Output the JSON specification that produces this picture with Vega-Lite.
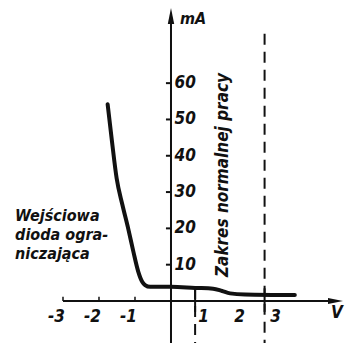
{
  "$schema": "https://vega.github.io/schema/vega-lite/v6.json",
  "width": 353,
  "height": 343,
  "autosize": {"type": "none"},
  "padding": 0,
  "background": "white",
  "config": {"view": {"stroke": null}},
  "datasets": {
    "curve": [
      {"v": -1.76, "ma": 54.2},
      {"v": -1.64, "ma": 44.0},
      {"v": -1.51, "ma": 33.8},
      {"v": -1.35, "ma": 26.5},
      {"v": -1.19, "ma": 20.0},
      {"v": -1.05, "ma": 13.8},
      {"v": -0.91, "ma": 8.1},
      {"v": -0.80, "ma": 5.3},
      {"v": -0.72, "ma": 4.4},
      {"v": -0.58, "ma": 3.9},
      {"v": 0.0, "ma": 3.9},
      {"v": 0.67, "ma": 3.6},
      {"v": 1.17, "ma": 3.4},
      {"v": 1.42, "ma": 2.75},
      {"v": 1.64, "ma": 2.1},
      {"v": 2.06, "ma": 1.8},
      {"v": 3.44, "ma": 1.65}
    ],
    "yticks": [
      {"value": 10, "label": "10"},
      {"value": 20, "label": "20"},
      {"value": 30, "label": "30"},
      {"value": 40, "label": "40"},
      {"value": 50, "label": "50"},
      {"value": 60, "label": "60"}
    ],
    "xticks": [
      {"value": -3, "label": "-3"},
      {"value": -2, "label": "-2"},
      {"value": -1, "label": "-1"},
      {"value": 1, "label": "1"},
      {"value": 2, "label": "2"},
      {"value": 3, "label": "3"}
    ],
    "bounds": [
      {"v": 0.67, "top": 3.6},
      {"v": 2.6, "top": 73.6}
    ],
    "one": [{"id": 1}]
  },
  "layer": [
    {
      "data": {"name": "one"},
      "mark": {"type": "rule", "color": "#111", "strokeWidth": 2},
      "encoding": {
        "x": {"datum": -3, "type": "quantitative", "scale": {"domain": [-4.75, 5.056], "nice": false, "zero": false}, "axis": null},
        "x2": {"datum": 4.6},
        "y": {"datum": 0, "type": "quantitative", "scale": {"domain": [-11.57, 82.9], "nice": false, "zero": false}, "axis": null}
      }
    },
    {
      "data": {"name": "one"},
      "mark": {"type": "rule", "color": "#111", "strokeWidth": 2},
      "encoding": {
        "x": {"datum": 0, "type": "quantitative", "scale": {"domain": [-4.75, 5.056], "nice": false, "zero": false}, "axis": null},
        "y": {"datum": -11.57, "type": "quantitative", "scale": {"domain": [-11.57, 82.9], "nice": false, "zero": false}, "axis": null},
        "y2": {"datum": 77}
      }
    },
    {
      "data": {"name": "one"},
      "mark": {"type": "point", "shape": "M1,0L-1,-0.4L-1,0.4Z", "filled": true, "color": "#111", "size": 225, "opacity": 1},
      "encoding": {
        "x": {"datum": 4.57, "type": "quantitative", "scale": {"domain": [-4.75, 5.056], "nice": false, "zero": false}, "axis": null},
        "y": {"datum": 0, "type": "quantitative", "scale": {"domain": [-11.57, 82.9], "nice": false, "zero": false}, "axis": null}
      }
    },
    {
      "data": {"name": "one"},
      "mark": {"type": "point", "shape": "M0,-1L0.4,1L-0.4,1Z", "filled": true, "color": "#111", "size": 256, "opacity": 1},
      "encoding": {
        "x": {"datum": 0, "type": "quantitative", "scale": {"domain": [-4.75, 5.056], "nice": false, "zero": false}, "axis": null},
        "y": {"datum": 78.5, "type": "quantitative", "scale": {"domain": [-11.57, 82.9], "nice": false, "zero": false}, "axis": null}
      }
    },
    {
      "data": {"name": "yticks"},
      "mark": {"type": "rule", "color": "#111", "strokeWidth": 2},
      "encoding": {
        "x": {"datum": -0.14, "type": "quantitative", "scale": {"domain": [-4.75, 5.056], "nice": false, "zero": false}, "axis": null},
        "x2": {"datum": 0},
        "y": {"field": "value", "type": "quantitative", "scale": {"domain": [-11.57, 82.9], "nice": false, "zero": false}, "axis": null}
      }
    },
    {
      "data": {"name": "xticks"},
      "transform": [{"filter": "datum.value < 0"}],
      "mark": {"type": "rule", "color": "#111", "strokeWidth": 1.5},
      "encoding": {
        "x": {"field": "value", "type": "quantitative", "scale": {"domain": [-4.75, 5.056], "nice": false, "zero": false}, "axis": null},
        "y": {"datum": 0, "type": "quantitative", "scale": {"domain": [-11.57, 82.9], "nice": false, "zero": false}, "axis": null},
        "y2": {"datum": 1.2}
      }
    },
    {
      "data": {"name": "yticks"},
      "mark": {"type": "text", "align": "left", "baseline": "middle", "font": "DejaVu Sans Condensed, Liberation Sans Narrow, DejaVu Sans", "fontSize": 17, "fontWeight": "bold", "fontStyle": "italic", "color": "#111"},
      "encoding": {
        "x": {"datum": 0.1, "type": "quantitative", "scale": {"domain": [-4.75, 5.056], "nice": false, "zero": false}, "axis": null},
        "y": {"field": "value", "type": "quantitative", "scale": {"domain": [-11.57, 82.9], "nice": false, "zero": false}, "axis": null},
        "text": {"field": "label"}
      }
    },
    {
      "data": {"name": "xticks"},
      "mark": {"type": "text", "align": "right", "baseline": "middle", "dx": 2, "font": "DejaVu Sans Condensed, Liberation Sans Narrow, DejaVu Sans", "fontSize": 17, "fontWeight": "bold", "fontStyle": "italic", "color": "#111"},
      "encoding": {
        "x": {"field": "value", "type": "quantitative", "scale": {"domain": [-4.75, 5.056], "nice": false, "zero": false}, "axis": null},
        "y": {"datum": -4.3, "type": "quantitative", "scale": {"domain": [-11.57, 82.9], "nice": false, "zero": false}, "axis": null},
        "text": {"field": "label"}
      }
    },
    {
      "data": {"name": "bounds"},
      "mark": {"type": "rule", "color": "#111", "strokeWidth": 2, "strokeDash": [11, 7]},
      "encoding": {
        "x": {"field": "v", "type": "quantitative", "scale": {"domain": [-4.75, 5.056], "nice": false, "zero": false}, "axis": null},
        "y": {"field": "top", "type": "quantitative", "scale": {"domain": [-11.57, 82.9], "nice": false, "zero": false}, "axis": null},
        "y2": {"datum": -11.57}
      }
    },
    {
      "data": {"name": "bounds"},
      "mark": {"type": "rule", "color": "#111", "strokeWidth": 2},
      "encoding": {
        "x": {"field": "v", "type": "quantitative", "scale": {"domain": [-4.75, 5.056], "nice": false, "zero": false}, "axis": null},
        "y": {"datum": 3.5, "type": "quantitative", "scale": {"domain": [-11.57, 82.9], "nice": false, "zero": false}, "axis": null},
        "y2": {"datum": -3}
      }
    },
    {
      "data": {"name": "curve"},
      "mark": {"type": "line", "color": "#111", "strokeWidth": 4, "strokeCap": "round", "strokeJoin": "round", "interpolate": "monotone"},
      "encoding": {
        "x": {"field": "v", "type": "quantitative", "scale": {"domain": [-4.75, 5.056], "nice": false, "zero": false}, "axis": null},
        "y": {"field": "ma", "type": "quantitative", "scale": {"domain": [-11.57, 82.9], "nice": false, "zero": false}, "axis": null}
      }
    },
    {
      "data": {"values": [{"text": "mA", "v": 0.25, "ma": 77.7}]},
      "mark": {"type": "text", "align": "left", "baseline": "middle", "font": "DejaVu Sans Condensed, Liberation Sans Narrow, DejaVu Sans", "fontSize": 16, "fontWeight": "bold", "fontStyle": "italic", "color": "#111"},
      "encoding": {
        "x": {"field": "v", "type": "quantitative", "scale": {"domain": [-4.75, 5.056], "nice": false, "zero": false}, "axis": null},
        "y": {"field": "ma", "type": "quantitative", "scale": {"domain": [-11.57, 82.9], "nice": false, "zero": false}, "axis": null},
        "text": {"field": "text"}
      }
    },
    {
      "data": {"values": [{"text": "V", "v": 4.61, "ma": -3.3}]},
      "mark": {"type": "text", "align": "center", "baseline": "middle", "font": "DejaVu Sans Condensed, Liberation Sans Narrow, DejaVu Sans", "fontSize": 17, "fontWeight": "bold", "fontStyle": "italic", "color": "#111"},
      "encoding": {
        "x": {"field": "v", "type": "quantitative", "scale": {"domain": [-4.75, 5.056], "nice": false, "zero": false}, "axis": null},
        "y": {"field": "ma", "type": "quantitative", "scale": {"domain": [-11.57, 82.9], "nice": false, "zero": false}, "axis": null},
        "text": {"field": "text"}
      }
    },
    {
      "data": {"values": [{"text": "Zakres normalnej pracy", "v": 1.44, "ma": 34.7}]},
      "mark": {"type": "text", "align": "center", "baseline": "middle", "angle": 270, "font": "DejaVu Sans Condensed, Liberation Sans Narrow, DejaVu Sans", "fontSize": 17, "fontWeight": "bold", "fontStyle": "italic", "color": "#111"},
      "encoding": {
        "x": {"field": "v", "type": "quantitative", "scale": {"domain": [-4.75, 5.056], "nice": false, "zero": false}, "axis": null},
        "y": {"field": "ma", "type": "quantitative", "scale": {"domain": [-11.57, 82.9], "nice": false, "zero": false}, "axis": null},
        "text": {"field": "text"}
      }
    },
    {
      "data": {"values": [{"text": "Wejściowa|dioda ogra-|niczająca", "v": -4.33, "ma": 22.0}]},
      "mark": {"type": "text", "align": "left", "baseline": "alphabetic", "lineBreak": "|", "lineHeight": 19, "font": "DejaVu Sans Condensed, Liberation Sans Narrow, DejaVu Sans", "fontSize": 16, "fontWeight": "bold", "fontStyle": "italic", "color": "#111"},
      "encoding": {
        "x": {"field": "v", "type": "quantitative", "scale": {"domain": [-4.75, 5.056], "nice": false, "zero": false}, "axis": null},
        "y": {"field": "ma", "type": "quantitative", "scale": {"domain": [-11.57, 82.9], "nice": false, "zero": false}, "axis": null},
        "text": {"field": "text"}
      }
    }
  ]
}
